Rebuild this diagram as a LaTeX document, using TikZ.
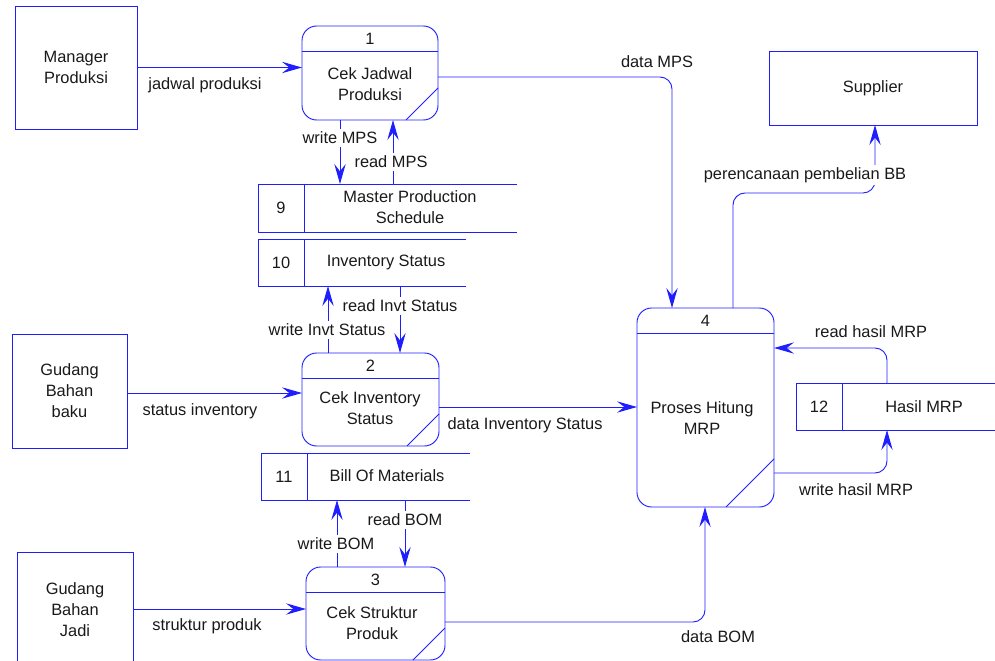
\documentclass[tikz,border=0pt]{standalone}
\usepackage{fontspec}
\setmainfont{Liberation Sans}
\usetikzlibrary{arrows.meta,calc}
\definecolor{dfdblue}{RGB}{30,30,255}

% data store: name, left, top, bottom, divider x, right, number, label position, label
\newcommand\datastore[9]{%
  \node[storeframe, minimum width={(#6-#2)*0.75pt}, minimum height={(#4-#3)*0.75pt}]
    (#1) at ({(#2+#6)/2},{(#3+#4)/2}) {};
  \draw[wire] (#1.north east) -- (#1.north west) -- (#1.south west) -- (#1.south east);
  \draw[wire] (#5,#3) -- (#5,#4);
  \node (#1-num) at ({(#2+#5)/2},{(#3+#4)/2}) {#7};
  \node (#1-txt) at (#8) {#9};
}

% process: name, centre x, centre y, width, height, corner cut, number, label position, label
\newcommand\dfdprocess[9]{%
  \node[procbox, minimum width={#4*0.75pt}, minimum height={#5*0.75pt}] (#1) at (#2,#3) {};
  \draw[wire] ($(#1.north west)+(0,25)$) -- ($(#1.north east)+(0,25)$);
  \draw[wire] ($(#1.south east)+(0,-#6)$) -- ($(#1.south east)+(-#6,0)$);
  \node (#1-num) at ($(#1.north)+(0,12.5)$) {#7};
  \node (#1-txt) at (#8) {#9};
}

\begin{document}
\begin{tikzpicture}[x=0.75pt,y=-0.75pt,
  every node/.style={font=\fontsize{12.3}{15.8}\selectfont, align=center,
    inner sep=0pt, outer sep=0pt, text=black!90},
  wire/.style={draw=dfdblue, line width=0.7pt},
  dfdflow/.style={wire, rounded corners=9pt,
    -{Stealth[length=15pt,width=8.5pt,inset=5.5pt]}},
  extent/.style={wire, rectangle},
  procbox/.style={wire, rectangle, rounded corners=11pt},
  storeframe/.style={rectangle},
  flowlabel/.style={fill=white, inner xsep=1pt, inner ysep=2pt}]

\useasboundingbox (0,0) rectangle (995,660);
\clip (0,0) rectangle (995,660);

% external entities
\node[extent, minimum width=91.5pt, minimum height=92.25pt] (mgr) at (76,67.5) {Manager\\Produksi};
\node[extent, minimum width=86.25pt, minimum height=85.5pt] (gbb) at (69.5,391) {Gudang\\Bahan\\baku};
\node[extent, minimum width=87pt, minimum height=87pt] (gbj) at (75,610) {Gudang\\Bahan\\Jadi};
\node[extent, minimum width=156pt, minimum height=55.5pt] (sup) at (873,88) {Supplier};

% processes
\dfdprocess{p1}{370}{73}{136}{94}{32}{1}{370,84}{Cek Jadwal\\Produksi}
\dfdprocess{p2}{370.5}{399.5}{137}{93}{32}{2}{370,408}{Cek Inventory\\Status}
\dfdprocess{p3}{375.5}{613.5}{139}{93}{32}{3}{372,623}{Cek Struktur\\Produk}
\dfdprocess{p4}{705.5}{407.5}{137}{199}{48}{4}{702,418}{Proses Hitung\\MRP}

% data stores
\datastore{s9}{258}{184}{232}{304}{517}{9}{410,207}{Master Production\\Schedule}
\datastore{s10}{258}{239}{286}{304}{466}{10}{386,262}{Inventory Status}
\datastore{s11}{261}{453}{500}{307}{470}{11}{387,476}{Bill Of Materials}
\datastore{s12}{796}{383}{430}{842}{998}{12}{924,407}{Hasil MRP}

% routing columns and rows
\coordinate (xWriteMPS) at (340,0);
\coordinate (xReadMPS) at (393,0);
\coordinate (xWriteInv) at (328,0);
\coordinate (xReadInv) at (400,0);
\coordinate (xWriteBOM) at (337,0);
\coordinate (xReadBOM) at (405,0);
\coordinate (xMPS) at (672,0);
\coordinate (xBOM) at (705,0);
\coordinate (xBuyOut) at (733,0);
\coordinate (xBuyIn) at (875,0);
\coordinate (xHasil) at (887,0);
\coordinate (yMPS) at (0,77);
\coordinate (yStatus) at (0,393);
\coordinate (yDataInv) at (0,407);
\coordinate (yStruktur) at (0,609);
\coordinate (yDataBOM) at (0,622);
\coordinate (yBuy) at (0,193);
\coordinate (yReadHasil) at (0,348);
\coordinate (yWriteHasil) at (0,473);

% flows
\draw[dfdflow] (mgr.east) -- (mgr.east -| p1.west);
\draw[dfdflow] (p1.south -| xWriteMPS) -- (s9.north -| xWriteMPS);
\draw[dfdflow] (s9.north -| xReadMPS) -- (p1.south -| xReadMPS);
\draw[dfdflow] (p1.east |- yMPS) -| (p4.north -| xMPS);
\draw[dfdflow] (p2.north -| xWriteInv) -- (s10.south -| xWriteInv);
\draw[dfdflow] (s10.south -| xReadInv) -- (p2.north -| xReadInv);
\draw[dfdflow] (gbb.east |- yStatus) -- (p2.west |- yStatus);
\draw[dfdflow] (p2.east |- yDataInv) -- (p4.west |- yDataInv);
\draw[dfdflow] (p3.north -| xWriteBOM) -- (s11.south -| xWriteBOM);
\draw[dfdflow] (s11.south -| xReadBOM) -- (p3.north -| xReadBOM);
\draw[dfdflow] (gbj.east |- yStruktur) -- (p3.west |- yStruktur);
\draw[dfdflow] (p3.east |- yDataBOM) -| (p4.south -| xBOM);
\draw[dfdflow] (p4.north -| xBuyOut) |- (yBuy -| xBuyIn) -- (sup.south -| xBuyIn);
\draw[dfdflow] (s12.north -| xHasil) |- (p4.east |- yReadHasil);
\draw[dfdflow] (p4.east |- yWriteHasil) -| (s12.south -| xHasil);

% flow labels
\node[flowlabel] (lJadwal) at (205,85) {jadwal produksi};
\node[flowlabel] (lWriteMPS) at (340,138) {write MPS};
\node[flowlabel] (lReadMPS) at (391,162) {read MPS};
\node[flowlabel] (lDataMPS) at (657,62) {data MPS};
\node[flowlabel] (lReadInv) at (400,306) {read Invt Status};
\node[flowlabel] (lWriteInv) at (327,330) {write Invt Status};
\node[flowlabel] (lStatus) at (200,411) {status inventory};
\node[flowlabel] (lDataInv) at (525,425) {data Inventory Status};
\node[flowlabel] (lReadBOM) at (405,520) {read BOM};
\node[flowlabel] (lWriteBOM) at (336,544) {write BOM};
\node[flowlabel] (lStruktur) at (207,626) {struktur produk};
\node[flowlabel] (lDataBOM) at (718,637) {data BOM};
\node[flowlabel] (lBuy) at (805,175) {perencanaan pembelian BB};
\node[flowlabel] (lReadHasil) at (871,332) {read hasil MRP};
\node[flowlabel] (lWriteHasil) at (856,490) {write hasil MRP};

\end{tikzpicture}
\end{document}
